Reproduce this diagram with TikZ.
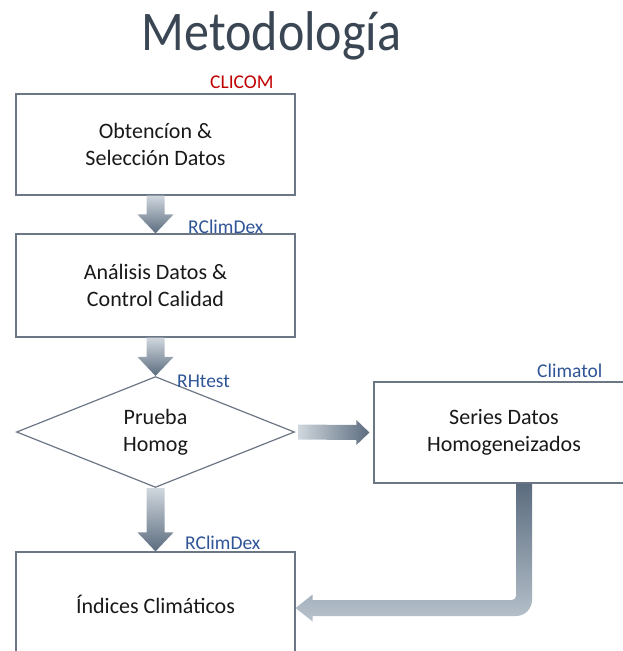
\documentclass[tikz,border=0pt]{standalone}
\usepackage{fontspec}
\setmainfont{Carlito}
\usetikzlibrary{shapes.geometric,calc}
\definecolor{boxline}{HTML}{6B7785}
\definecolor{arrdark}{HTML}{5B6C7E}
\definecolor{arrlight}{HTML}{D0D7DE}
\definecolor{arrpale}{HTML}{B7C2CC}
\definecolor{toolblue}{HTML}{2F5597}
\definecolor{toolred}{HTML}{C00000}
\definecolor{titlegray}{HTML}{3B4654}
\tikzset{
  stepbox/.style={draw=boxline, line width=1.2pt, fill=white, align=center,
    inner sep=0pt, font=\fontsize{22}{27}\selectfont, text=black!90},
  tool/.style={font=\fontsize{19.5}{20}\selectfont, text=toolblue, inner sep=0pt, anchor=base west},
  blockdown/.style={top color=arrlight, bottom color=arrdark},
}
% block arrow pointing down, #1 = start, #2 = tip
\newcommand\downblock[2]{%
  \shade[blockdown] ($(#1)+(-9,0)$) -- ($(#1)+(9,0)$) -- ($(#2)+(9,-19)$)
    -- ($(#2)+(18,-19)$) -- (#2) -- ($(#2)+(-18,-19)$) -- ($(#2)+(-9,-19)$) -- cycle;}
\begin{document}
\begin{tikzpicture}[x=1pt, y=-1pt]
\useasboundingbox (0,0) rectangle (623,651);
\clip (0,0) rectangle (623,651);
% titulo
\node[font=\fontsize{50}{50}\selectfont, text=titlegray, anchor=base] (title) at (271.5,50)
  {\scalebox{1}[1.12]{Metodología}};
% pasos
\node[stepbox, minimum width=279, minimum height=101] (obt) at (155.5,144.5) {Obtencíon \&\\Selección Datos};
\node[stepbox, minimum width=279, minimum height=103] (ana) at (155.5,285.5) {Análisis Datos \&\\Control Calidad};
\node[stepbox, diamond, minimum width=278, minimum height=102] (hom) at (155.5,432) {Prueba\\Homog};
\node[stepbox, minimum width=260, minimum height=101] (ser) at (504,432.5) {Series Datos\\Homogeneizados};
\node[stepbox, minimum width=279, minimum height=104] (ind) at (155.5,604) {Índices Climáticos};
% herramientas
\node[tool, text=toolred] (clicom) at (210,88) {CLICOM};
\node[tool] (rcd1) at (188,233) {RClimDex};
\node[tool] (rht) at (177,387) {RHtest};
\node[tool] (clim) at (537,377) {Climatol};
\node[tool] (rcd2) at (185,549) {RClimDex};
% flechas
\downblock{obt.south}{ana.north}
\downblock{ana.south}{hom.north}
\downblock{hom.south}{ind.north}
\shade[left color=arrlight, right color=arrdark] ($(hom.east)+(3,-7.5)$) -- ($(ser.west)+(-17,-7.5)$)
  -- ($(ser.west)+(-17,-12.5)$) -- ($(ser.west)+(-4,0)$) -- ($(ser.west)+(-17,12.5)$)
  -- ($(ser.west)+(-17,7.5)$) -- ($(hom.east)+(3,7.5)$) -- cycle;
% flecha de regreso
\coordinate (bendtop) at ($(ser.south)+(20,0)$);
\coordinate (bendtip) at ($(ind.east)+(0,4)$);
\coordinate (bend) at (bendtop |- bendtip);
\shade[top color=arrdark, bottom color=arrpale] ($(bendtop)+(-8,0)$) -- ($(bendtop)+(8,0)$)
  -- ($(bend)+(8,-8)$) .. controls ($(bend)+(8,0.8)$) and ($(bend)+(0.8,8)$) .. ($(bend)+(-8,8)$)
  -- ($(bendtip)+(17,8)$) -- ($(bendtip)+(17,13.5)$) -- (bendtip) -- ($(bendtip)+(17,-13.5)$)
  -- ($(bendtip)+(17,-8)$) -- ($(bend)+(-12,-8)$) .. controls ($(bend)+(-9.8,-8)$) and ($(bend)+(-8,-9.8)$) .. ($(bend)+(-8,-12)$)
  -- cycle;
\end{tikzpicture}
\end{document}
